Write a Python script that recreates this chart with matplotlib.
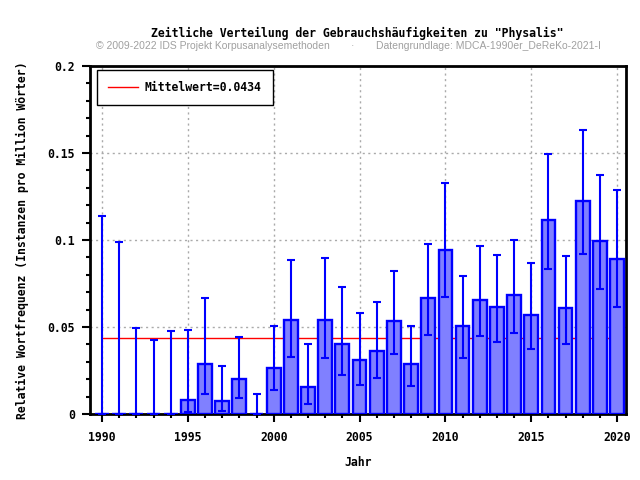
import numpy as np
import matplotlib
matplotlib.use("Agg")
import matplotlib.pyplot as plt
from matplotlib.ticker import MultipleLocator

YEARS = list(range(1990, 2021))

# relative frequency per year (instances per million words)
FREQ = [0.0, 0.0, 0.0, 0.0, 0.0, 0.0082, 0.0286, 0.0077, 0.0203, 0.0, 0.0266,
        0.0542, 0.0157, 0.0542, 0.0404, 0.0312, 0.0364, 0.0536, 0.0289, 0.0669, 0.0944,
        0.0508, 0.0657, 0.0617, 0.0686, 0.0571, 0.1117, 0.0611, 0.1226, 0.0996, 0.0893]

# confidence interval bounds
CI_LOW = [0.0, 0.0, 0.0, 0.0, 0.0, 0.0013, 0.0117, 0.0019, 0.0092, 0.0, 0.0140,
          0.0330, 0.0059, 0.0324, 0.0226, 0.0168, 0.0209, 0.0347, 0.0163, 0.0456, 0.0675,
          0.0324, 0.0450, 0.0416, 0.0467, 0.0375, 0.0835, 0.0404, 0.0921, 0.0720, 0.0617]
CI_HIGH = [0.1140, 0.0990, 0.0496, 0.0427, 0.0479, 0.0485, 0.0669, 0.0278, 0.0444, 0.0117, 0.0508,
           0.0887, 0.0404, 0.0898, 0.0732, 0.0582, 0.0646, 0.0824, 0.0508, 0.0979, 0.1330,
           0.0795, 0.0967, 0.0916, 0.1002, 0.0870, 0.1496, 0.0910, 0.1634, 0.1375, 0.1289]

MEAN = 0.0434

MONO = "DejaVu Sans Mono"
FS = 8.3

years = np.array(YEARS)
freq = np.array(FREQ)
err = np.vstack([freq - np.array(CI_LOW), np.array(CI_HIGH) - freq])

fig = plt.figure(figsize=(6.4, 4.8), dpi=100)
ax = fig.add_axes([0.1406, 0.1375, 0.8375, 0.725])

# grid first so it sits behind the bars
ax.set_axisbelow(True)
ax.grid(True, which="major", color="#aaaaaa", linestyle=(0, (1.5, 2.5)), linewidth=1.0)

ax.plot([YEARS[0], YEARS[-1]], [MEAN, MEAN], color="red", linewidth=1.0,
        label=f"Mittelwert={MEAN}", zorder=2)

ax.bar(years, freq, width=0.8, color="#8080ff", edgecolor="#0000ff",
       linewidth=1.7, zorder=3)
ax.errorbar(years, freq, yerr=err, fmt="none", ecolor="#0000ff",
            elinewidth=1.5, capsize=3, capthick=1.5, zorder=4)

ax.set_xlim(1989.3, 2020.52)
ax.set_ylim(0, 0.2)
ax.xaxis.set_major_locator(MultipleLocator(5))
ax.xaxis.set_minor_locator(MultipleLocator(1))
ax.yaxis.set_minor_locator(MultipleLocator(0.01))
ax.set_yticks([0, 0.05, 0.1, 0.15, 0.2])
ax.set_yticklabels(["0", "0.05", "0.1", "0.15", "0.2"])

ax.tick_params(which="major", direction="out", length=6, width=1.5, pad=5)
ax.tick_params(axis="x", which="major", pad=6)
ax.tick_params(which="minor", direction="out", length=3, width=1.5)
for lab in ax.get_xticklabels() + ax.get_yticklabels():
    lab.set_fontfamily(MONO)
    lab.set_fontweight("bold")
    lab.set_fontsize(FS)

for sp in ax.spines.values():
    sp.set_linewidth(2)

ax.set_xlabel("Jahr", fontfamily=MONO, fontweight="bold", fontsize=FS, labelpad=9)
ax.set_ylabel("Relative Wortfrequenz (Instanzen pro Million Wörter)", fontfamily=MONO,
              fontweight="bold", fontsize=FS, labelpad=13)

leg = ax.legend(loc="upper left", bbox_to_anchor=(0.013, 0.988), borderaxespad=0,
                fancybox=False, framealpha=1, edgecolor="black", handlelength=2.6,
                handletextpad=0.6, borderpad=0.95,
                prop={"family": MONO, "weight": "bold", "size": FS})
leg.get_frame().set_linewidth(1.0)

fig.text(0.558, 0.931, 'Zeitliche Verteilung der Gebrauchshäufigkeiten zu "Physalis"',
         ha="center", va="center", fontfamily=MONO, fontweight="bold", fontsize=FS)
sub_kw = dict(va="center", fontfamily="Liberation Sans", fontsize=7.5, color="#a0a0a0")
fig.text(96 / 640, 0.904, "© 2009-2022 IDS Projekt Korpusanalysemethoden", ha="left", **sub_kw)
fig.text(352 / 640, 0.904, "·", ha="center", **sub_kw)
fig.text(376 / 640, 0.904, "Datengrundlage: MDCA-1990er_DeReKo-2021-I", ha="left", **sub_kw)

fig.savefig("out.png", dpi=100)
